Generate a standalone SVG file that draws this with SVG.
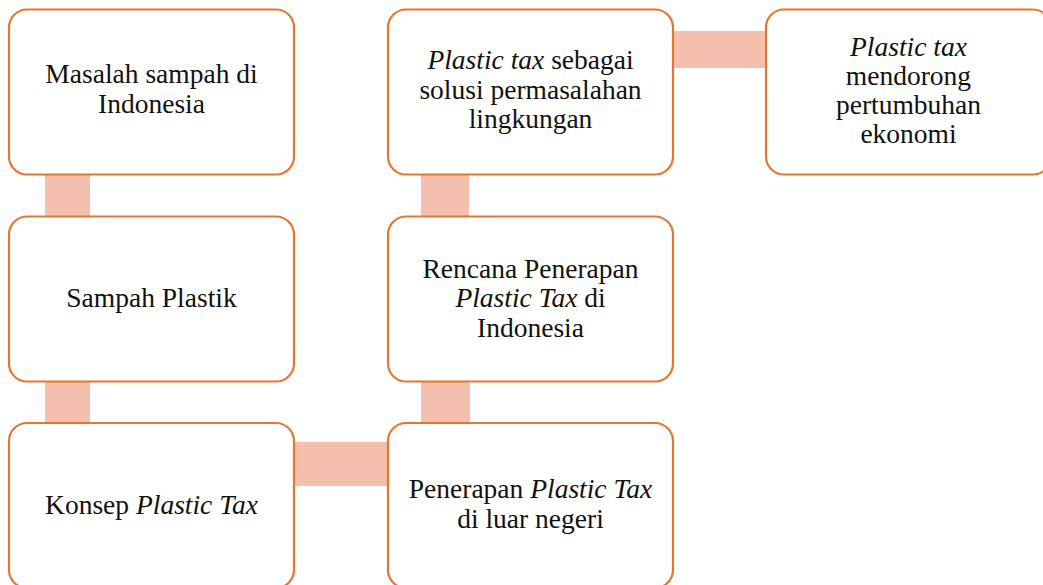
<svg xmlns="http://www.w3.org/2000/svg" width="1043" height="585" viewBox="0 0 1043 585">
<style>
.box{fill:#fff;stroke:#E2772F;stroke-width:2.2}
.con{fill:#F4BFAC}
.t{font-family:'Liberation Serif','Times New Roman',Tinos,'Nimbus Roman','DejaVu Serif','Noto Serif',serif;font-size:27.5px;fill:#111;text-anchor:middle}
.i{font-style:italic}
</style>
<rect width="1043" height="585" fill="#fff"/>
<g id="connectors">
<rect class="con" x="45" y="174" width="45" height="43"/>
<rect class="con" x="45" y="381" width="45" height="43"/>
<rect class="con" x="293" y="442" width="96" height="44"/>
<rect class="con" x="421" y="381" width="49" height="43"/>
<rect class="con" x="421" y="174" width="48" height="43"/>
<rect class="con" x="672" y="31" width="95" height="37"/>
</g>
<g class="t">
<g id="n1"><rect class="box" x="9" y="9.5" width="285" height="165" rx="18"/>
<text x="151.5" y="83">Masalah sampah di</text><text x="151.5" y="113">Indonesia</text></g>
<g id="n2"><rect class="box" x="9" y="216.5" width="285" height="165" rx="18"/>
<text x="151.5" y="307">Sampah Plastik</text></g>
<g id="n3"><rect class="box" x="9" y="423" width="285" height="165" rx="18"/>
<text x="151.5" y="514">Konsep <tspan class="i">Plastic Tax</tspan></text></g>
<g id="n4"><rect class="box" x="388" y="9.5" width="285" height="165" rx="18"/>
<text x="530.5" y="69"><tspan class="i">Plastic tax</tspan> sebagai</text><text x="530.5" y="99">solusi permasalahan</text><text x="530.5" y="128">lingkungan</text></g>
<g id="n5"><rect class="box" x="388" y="216.5" width="285" height="165" rx="18"/>
<text x="530.5" y="278">Rencana Penerapan</text><text x="530.5" y="307"><tspan class="i">Plastic Tax</tspan> di</text><text x="530.5" y="337">Indonesia</text></g>
<g id="n6"><rect class="box" x="388" y="423" width="285" height="165" rx="18"/>
<text x="530.5" y="498">Penerapan <tspan class="i">Plastic Tax</tspan></text><text x="530.5" y="528">di luar negeri</text></g>
<g id="n7"><rect class="box" x="766" y="9.5" width="285" height="165" rx="18"/>
<text x="908.5" y="56" class="i">Plastic tax</text><text x="908.5" y="85">mendorong</text><text x="908.5" y="114">pertumbuhan</text><text x="908.5" y="143">ekonomi</text></g>
</g>
</svg>
